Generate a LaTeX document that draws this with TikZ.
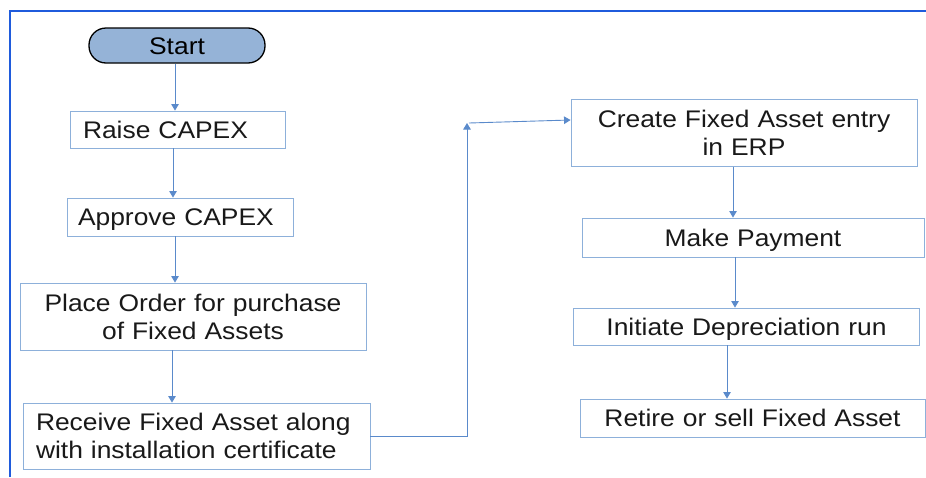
\documentclass[tikz,border=0pt]{standalone}
\usepackage{fontspec}
\setmainfont{Liberation Sans}[FakeStretch=1.1]
\usetikzlibrary{arrows.meta}
\definecolor{framebl}{HTML}{1F5BDC}
\definecolor{boxline}{HTML}{8DB0DA}
\definecolor{flowline}{HTML}{5A8ACB}
\definecolor{startfill}{HTML}{95B3D7}
\tikzset{
  stepbox/.style={draw=boxline, line width=0.9pt, rectangle, inner ysep=0pt,
    font=\fontsize{24}{28}\selectfont, text=black!90},
  leftbox/.style={stepbox, align=left, inner xsep=#1},
  midbox/.style={stepbox, align=center},
  oneline/.style={text height=17.2pt, text depth=0pt},
  flow/.style={draw=flowline, line width=0.9pt,
    -{Triangle[width=7.5pt,length=6.5pt]}}
}
\begin{document}
\begin{tikzpicture}[x=1pt,y=-1pt]
  \useasboundingbox (0,0) rectangle (926,477);
  % page frame (top and left edges)
  \draw[framebl, line width=2.4pt] (10,477) -- (10,11) -- (926,11);

  % start terminal
  \node[draw=black, line width=1.3pt, fill=startfill, rounded corners=17pt,
        minimum width=176pt, minimum height=35pt, inner sep=0pt, oneline,
        font=\fontsize{24}{28}\selectfont] (start) at (177,45.5) {Start};

  % left column
  \node[leftbox=13pt, oneline, text width=189pt, minimum height=37pt] (raise) at (177.5,129.5) {Raise CAPEX};
  \node[leftbox=11pt, oneline, text width=204pt, minimum height=38pt] (approve) at (180,217) {Approve CAPEX};
  \node[midbox, text width=346pt, minimum height=67pt, inner xsep=0pt] (order) at (193,316.5)
    {Place Order for purchase\\of Fixed Assets};
  \node[leftbox=13pt, text width=321pt, minimum height=66pt] (receive) at (196.5,436)
    {Receive Fixed Asset along\\with installation certificate};

  % right column
  \node[midbox, text width=346pt, minimum height=67pt, inner xsep=0pt] (create) at (744,133)
    {Create Fixed Asset entry\\in ERP};
  \node[midbox, oneline, text width=342pt, minimum height=39pt, inner xsep=0pt] (payment) at (753,237.5) {Make Payment};
  \node[midbox, oneline, text width=346pt, minimum height=37pt, inner xsep=0pt] (deprec) at (746.5,326.5) {Initiate Depreciation run};
  \node[midbox, oneline, text width=345pt, minimum height=38pt, inner xsep=0pt] (retire) at (752.5,418) {Retire or sell Fixed Asset};

  % connectors, left column
  \draw[flow] ([xshift=-2pt]start.south) -- ([xshift=-2pt]start.south |- raise.north);
  \draw[flow] ([xshift=-4.5pt]raise.south) -- ([xshift=-4.5pt]raise.south |- approve.north);
  \draw[flow] ([xshift=-5pt]approve.south) -- ([xshift=-5pt]approve.south |- order.north);
  \draw[flow] ([xshift=-21pt]order.south) -- ([xshift=-21pt]order.south |- receive.north);

  % crossing over to the right column
  \coordinate (rise) at (467,123);
  \coordinate (entry) at (create.west |- 0,120);
  \draw[flow] (receive.east) -| (rise);
  \draw[flow] ([xshift=2pt]rise) -- (entry);

  % connectors, right column
  \draw[flow] ([xshift=-11pt]create.south) -- ([xshift=-11pt]create.south |- payment.north);
  \draw[flow] ([xshift=-18pt]payment.south) -- ([xshift=-18pt]payment.south |- deprec.north);
  \draw[flow] ([xshift=-19.5pt]deprec.south) -- ([xshift=-19.5pt]deprec.south |- retire.north);
\end{tikzpicture}
\end{document}
